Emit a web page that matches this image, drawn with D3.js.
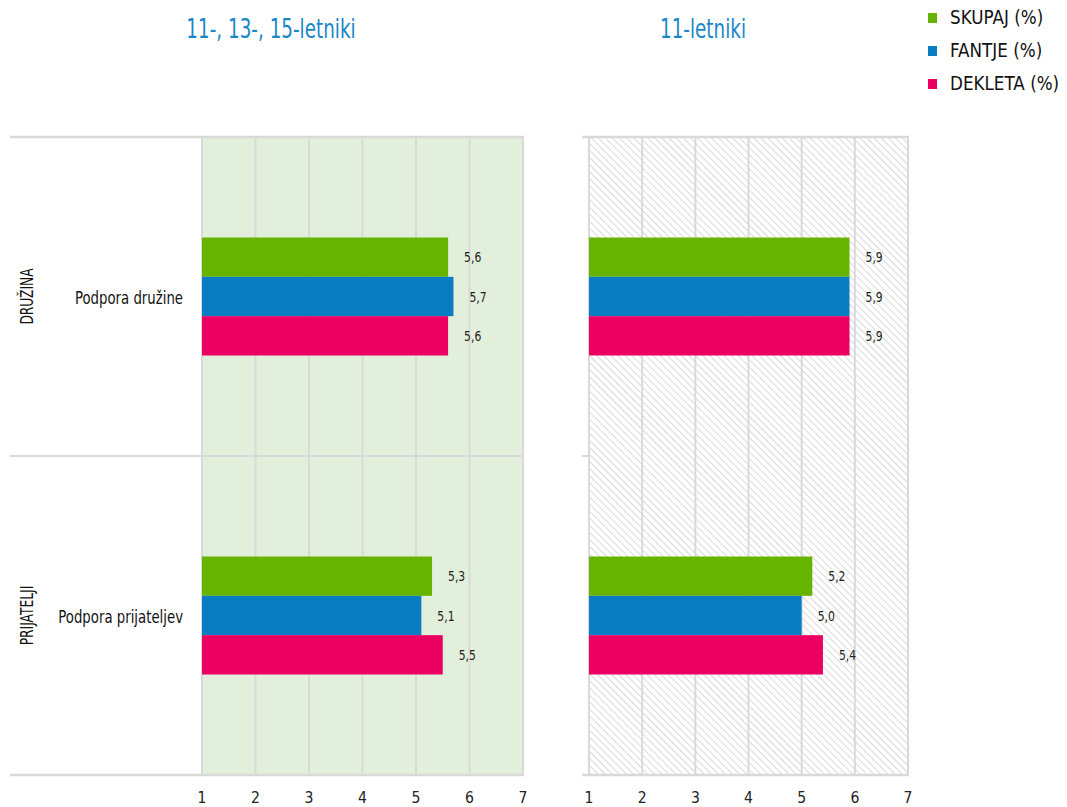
<!DOCTYPE html>
<html><head><meta charset="utf-8">
<script src="https://cdn.jsdelivr.net/npm/d3@7"></script>
<style>
body{margin:0;background:#fff;}
svg text{font-family:"DejaVu Sans",sans-serif;}
</style></head>
<body><svg id="c" width="1067" height="807"></svg>
<script>
const groups = ["DRUŽINA", "PRIJATELJI"];
const categories = ["Podpora družine", "Podpora prijateljev"];
const series = ["SKUPAJ (%)", "FANTJE (%)", "DEKLETA (%)"];
const colors = ["#66b400", "#0a7cc4", "#eb0062"];
const panelTitles = ["11-, 13-, 15-letniki", "11-letniki"];
const ticks = [1, 2, 3, 4, 5, 6, 7];
// values [category][series]
const allAges = [[5.6, 5.7, 5.6], [5.3, 5.1, 5.5]];
const age11 = [[5.9, 5.9, 5.9], [5.2, 5.0, 5.4]];
const panelData = [allAges, age11];

const svg = d3.select("#c");
const defs = svg.append("defs");
const pat = defs.append("pattern").attr("id","hatch").attr("patternUnits","userSpaceOnUse")
  .attr("width",5).attr("height",5).attr("patternTransform","rotate(-45)");
pat.append("rect").attr("width",5).attr("height",5).attr("fill","#fff");
pat.append("line").attr("x1",0).attr("y1",0).attr("x2",0).attr("y2",5).attr("stroke","#d0d0d0").attr("stroke-width",1.6);

// condensed text helper
function ctext(parent, x, y, txt, size, sx, anchor, fill, rot) {
  const g = parent.append("g").attr("transform", `translate(${x},${y})${rot ? ` rotate(${rot})` : ""} scale(${sx},1)`);
  return g.append("text").attr("x", 0).attr("y", 0).attr("text-anchor", anchor || "start")
    .attr("font-size", size).attr("fill", fill || "#111").text(txt);
}

const plotTop = 137, plotBottom = 775;
const yCat = d3.scaleBand().domain(categories).range([plotTop, plotBottom]);
const barBlock = 118;
const grid = "#d9d9d9";

const panels = [
  {x0: 202, x1: 523, bg: "#e2efda", titleX: 271, lineL: 10, sepFull: true},
  {x0: 589, x1: 908, bg: "url(#hatch)", titleX: 703, lineL: 582, sepFull: false}
];

panels.forEach((p, pi) => {
  const x = d3.scaleLinear().domain([1, 7]).range([p.x0, p.x1]);
  const g = svg.append("g");
  g.append("rect").attr("x", x(1)).attr("y", plotTop).attr("width", x(7) - x(1)).attr("height", plotBottom - plotTop).attr("fill", p.bg);
  g.selectAll(".gl").data(ticks).enter().append("line")
    .attr("x1", d => x(d)).attr("x2", d => x(d)).attr("y1", plotTop).attr("y2", plotBottom)
    .attr("stroke", grid).attr("stroke-width", 2);
  g.append("line").attr("x1", p.lineL).attr("x2", x(7) + 1).attr("y1", plotTop).attr("y2", plotTop).attr("stroke", grid).attr("stroke-width", 2.5);
  g.append("line").attr("x1", p.lineL).attr("x2", x(7) + 1).attr("y1", plotBottom).attr("y2", plotBottom).attr("stroke", grid).attr("stroke-width", 2.5);
  const mid = yCat(categories[1]);
  g.append("line").attr("x1", p.lineL).attr("x2", p.sepFull ? x(7) : x(1)).attr("y1", mid).attr("y2", mid).attr("stroke", grid).attr("stroke-width", 2);

  categories.forEach((c, ci) => {
    const cy = yCat(c) + yCat.bandwidth() / 2;
    const ys = d3.scaleBand().domain(series).range([cy - barBlock / 2, cy + barBlock / 2]);
    const vals = panelData[pi][ci];
    g.selectAll(".b" + ci).data(series).enter().append("rect")
      .attr("x", x(1)).attr("y", s => ys(s))
      .attr("width", (s, i) => x(vals[i]) - x(1)).attr("height", ys.bandwidth())
      .attr("fill", (s, i) => colors[i]);
    series.forEach((s, i) => {
      ctext(g, x(vals[i]) + 16, ys(s) + ys.bandwidth() / 2 + 5,
        d3.format(".1f")(vals[i]).replace(".", ","), 13.5, 0.8, "start", "#222");
    });
  });

  ticks.forEach(t => ctext(g, x(t), 803, t, 16.5, 0.85, "middle", "#222"));

  ctext(svg, p.titleX, 38, panelTitles[pi], 27, 0.68, "middle", "#1a86c8");
});

categories.forEach((c, ci) => {
  const cy = yCat(c) + yCat.bandwidth() / 2;
  ctext(svg, 183, cy + 7, c, 17.5, 0.76, "end", "#111");
  ctext(svg, 33, cy, groups[ci], 17.5, 0.7, "middle", "#111", -90);
});

const leg = svg.append("g");
series.forEach((s, i) => {
  const ly = 24 + i * 33;
  leg.append("rect").attr("x", 928).attr("y", ly - 11).attr("width", 9).attr("height", 10).attr("fill", colors[i]);
  ctext(leg, 950, ly, s, 19.5, 0.86, "start", "#111");
});
</script></body></html>
